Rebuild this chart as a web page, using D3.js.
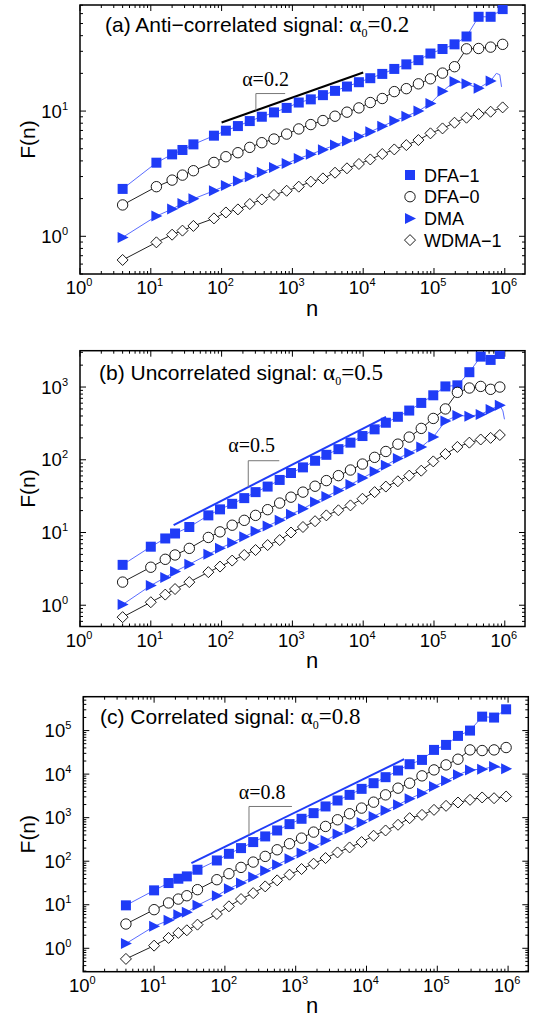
<!DOCTYPE html>
<meta charset="utf-8">
<style>
  body { margin: 0; background: #fff; }
  svg { position: absolute; left: 0; top: 0; }
  text { font-family: 'Liberation Sans', Arial, sans-serif; fill: #000; }
  .serif { font-family: 'Liberation Serif', 'Times New Roman', serif; }
  .frame { fill: none; stroke: #000; stroke-width: 1.5px; }
  .tick { stroke: #000; stroke-width: 1px; }
</style>
<script src="https://d3js.org/d3.v7.min.js"></script>
<svg width="537" height="1018"></svg>
<script>
  // ---- panel (a): anti-correlated, alpha0 = 0.2
  var nA = [4, 12, 20, 28, 40, 78, 115, 170, 250, 370, 550, 830, 1230, 1820, 2700, 4000, 5900, 8700,
    12600, 18600, 27500, 40700, 60300, 89100, 132000, 195000, 288000, 427000, 631000, 933000];
  var dfa1A = [2.39, 3.87, 4.51, 4.89, 5.42, 6.36, 6.97, 7.59, 8.32, 9.01, 9.76, 10.6, 11.7, 12.4, 13.4, 14.5, 15.7, 17.0,
    18.3, 19.8, 21.7, 23.6, 25.5, 28.8, 31.3, 34.1, 39.4, 56.6, 56.6, 65.2];
  var dfa0A = [1.78, 2.49, 2.81, 3.08, 3.34, 3.89, 4.32, 4.65, 5.13, 5.59, 5.98, 6.55, 7.2, 7.8, 8.4, 9.1, 9.8, 10.6,
    11.7, 12.6, 14.3, 15.1, 16.5, 18.1, 20.1, 22.6, 31.4, 31.6, 32.4, 34.1];
  var dmaA = [0.98, 1.45, 1.65, 1.83, 1.99, 2.31, 2.54, 2.76, 2.99, 3.24, 3.55, 3.82, 4.19, 4.52, 4.92, 5.35, 5.78, 6.27,
    6.84, 7.55, 8.35, 9.1, 10.0, 11.5, 14.4, 17.2, 16.5, 15.2, 17.4];
  var wdmaA = [0.647, 0.895, 1.03, 1.11, 1.21, 1.39, 1.55, 1.64, 1.81, 1.97, 2.14, 2.31, 2.49, 2.73, 2.90, 3.22, 3.49, 3.78,
    4.11, 4.54, 4.94, 5.35, 5.87, 6.64, 7.27, 8.07, 8.85, 9.46, 9.88, 10.7];
  var dmaTailA = [[631000, 17.4], [760000, 20.0], [850000, 19.5], [900000, 15.6]];

  // ---- panel (b): uncorrelated, alpha0 = 0.5
  var nB = [4, 10, 16, 22, 35, 65, 95, 141, 209, 302, 447, 661, 955, 1410, 2090, 3020, 4470, 6610, 9770,
    14500, 20900, 30900, 44700, 66100, 97700, 145000, 214000, 316000, 457000, 631000, 851000];
  var dfa1B = [3.59, 6.38, 8.28, 9.69, 11.9, 17.2, 20.8, 24.8, 29.7, 35.9, 42.8, 52.8, 65.8, 78.6, 96.9, 117, 140, 172, 212,
    262, 323, 390, 475, 605, 770, 1020, 1055, 1600, 2620, 2360, 2850];
  var dfa0B = [2.08, 3.33, 4.28, 4.91, 6.05, 8.55, 10.2, 12.6, 14.7, 17.2, 20.6, 25.4, 30.6, 35.9, 43.3, 51.7, 60.5, 72.3, 87.3,
    108, 130, 164, 205, 270, 370, 500, 845, 970, 1020, 930, 1000];
  var dmaB = [1.02, 1.87, 2.41, 2.91, 3.66, 5.01, 6.05, 7.23, 8.73, 10.4, 12.3, 14.7, 17.8, 21.2, 26.2, 31.3, 37.8, 45.6, 56,
    69, 84, 104, 124, 150, 205, 340, 406, 398, 420, 491, 562];
  var wdmaB = [0.686, 1.10, 1.40, 1.67, 2.08, 2.85, 3.40, 4.11, 4.91, 5.74, 6.72, 7.86, 10.0, 11.9, 14.3, 17.2, 20.2, 23.6, 29.1,
    35.9, 42.8, 50.6, 60.5, 70.8, 95, 120, 150, 172, 190, 200, 219];
  var dmaTailB = [[851000, 562], [940000, 470], [990000, 360]];

  // ---- panel (c): correlated, alpha0 = 0.8
  var nC = [4, 10, 16, 22, 29, 41, 77, 114, 169, 251, 371, 547, 818, 1210, 1790, 2640, 3900, 5770, 8530,
    12600, 18600, 27900, 40700, 60800, 89900, 133000, 196000, 290000, 430000, 634000, 938000];
  var dfa1C = [9.69, 21.4, 31.5, 39.6, 44.8, 63.7, 104, 148, 200, 275, 371, 508, 711, 943, 1270, 1810, 2480, 3340, 4590,
    6190, 8510, 12100, 16900, 21200, 36000, 46900, 75500, 100000, 209000, 199000, 308000];
  var dfa0C = [3.61, 7.71, 11.0, 13.5, 16.1, 22.2, 37.6, 51.6, 72.1, 95.5, 129, 183, 252, 339, 466, 629, 894, 1230, 1660,
    2270, 3340, 4760, 6190, 9120, 12500, 16300, 22000, 36000, 34800, 36000, 40800];
  var dmaC = [1.28, 3.2, 4.39, 5.92, 6.69, 9.69, 16.1, 23.4, 31.5, 43.3, 60.4, 83, 114, 154, 211, 300, 419, 556, 776,
    1070, 1460, 1970, 2710, 3650, 5200, 7010, 9620, 12500, 13000, 14900, 13200];
  var wdmaC = [0.57, 1.15, 1.73, 2.25, 2.59, 3.49, 6.13, 9.2, 13.5, 18.5, 26.4, 36.3, 49, 66.1, 87.5, 118, 159, 207, 275,
    384, 508, 686, 975, 1160, 1510, 1870, 2230, 2570, 2910, 2800, 3060];

  // reference slope lines [n0, F0, n1, F1], bracket [n, Ftop, n_end], label [n, F]
  var slopeA = [100, 8.1, 10000, 20.3], bracketA = [305, 13.8, 790], labelA = [195, 15.8];
  var slopeB = [21, 12.6, 21000, 390], bracketB = [238, 97, 653], labelB = [124, 126];
  var slopeC = [33.6, 90.6, 34000, 22000], bracketC = [219, 1807, 885], labelC = [157, 2660];

  var legendNames = ["DFA\u22121", "DFA\u22120", "DMA", "WDMA\u22121"];

  var blue = "#1f3cf7", blueLine = "#5a6cff";

  var panels = [
    { left: 80, right: 525, top: 5, bottom: 274, xmax: 1.93e6, ymin: 0.5, ymax: 70.3, yexp: [0, 1],
      n: nA, s: [dfa1A, dfa0A, dmaA, wdmaA], tail: dmaTailA, slope: slopeA, bracket: bracketA, label: labelA,
      slopeColor: "#000", head: "(a) Anti\u2212correlated signal: ", a0: "0.2", alpha: "0.2", legend: true,
      titleX: 105, titleY: 32, nY: 316 },
    { left: 80, right: 525, top: 350.7, bottom: 626.5, xmax: 1.93e6, ymin: 0.51, ymax: 3160, yexp: [0, 1, 2, 3],
      n: nB, s: [dfa1B, dfa0B, dmaB, wdmaB], tail: dmaTailB, slope: slopeB, bracket: bracketB, label: labelB,
      slopeColor: blue, head: "(b) Uncorrelated signal: ", a0: "0.5", alpha: "0.5", legend: false,
      titleX: 99, titleY: 380, nY: 668 },
    { left: 83.3, right: 528.3, top: 696.7, bottom: 971.7, xmax: 1.93e6, ymin: 0.29, ymax: 6.0e5, yexp: [0, 1, 2, 3, 4, 5],
      n: nC, s: [dfa1C, dfa0C, dmaC, wdmaC], tail: null, slope: slopeC, bracket: bracketC, label: labelC,
      slopeColor: blue, head: "(c) Correlated signal: ", a0: "0.8", alpha: "0.8", legend: false,
      titleX: 100, titleY: 724, nY: 1013 }
  ];

  var svg = d3.select("svg");

  var shapes = [
    function(g) { g.append("rect").attr("x", -5).attr("y", -5).attr("width", 10).attr("height", 10).attr("fill", blue); },
    function(g) { g.append("circle").attr("r", 5.2).attr("fill", "#fff").attr("stroke", "#000").attr("stroke-width", 0.9); },
    function(g) { g.append("path").attr("d", "M-5,-5.5L6,0L-5,5.5Z").attr("fill", blue); },
    function(g) { g.append("path").attr("d", "M0,-5.5L5.5,0L0,5.5L-5.5,0Z").attr("fill", "#fff").attr("stroke", "#000").attr("stroke-width", 0.9); }
  ];
  var lineColors = [blueLine, "#222", blueLine, "#222"];

  function tens(sel, e) {
    sel.append("tspan").text("10");
    sel.append("tspan").attr("dy", -8).attr("font-size", 11).text(e);
  }

  panels.forEach(function(p) {
    var x = d3.scaleLog().domain([1, p.xmax]).range([p.left, p.right]);
    var y = d3.scaleLog().domain([p.ymin, p.ymax]).range([p.bottom, p.top]);
    var g = svg.append("g");

    // ticks on all four sides, pointing inward
    var xt = [], yt = [];
    for (var e = 0; e <= 6; e++) for (var m = 1; m < 10; m++) {
      var v = m * Math.pow(10, e);
      if (v >= 1 && v <= p.xmax) xt.push([v, m === 1]);
    }
    for (var e2 = -1; e2 <= 6; e2++) for (var m2 = 1; m2 < 10; m2++) {
      var w = m2 * Math.pow(10, e2);
      if (w >= p.ymin && w <= p.ymax) yt.push([w, m2 === 1]);
    }
    xt.forEach(function(t) {
      var L = t[1] ? 6 : 3, xx = x(t[0]);
      g.append("line").attr("class", "tick").attr("x1", xx).attr("x2", xx).attr("y1", p.bottom).attr("y2", p.bottom - L);
      g.append("line").attr("class", "tick").attr("x1", xx).attr("x2", xx).attr("y1", p.top).attr("y2", p.top + L);
    });
    yt.forEach(function(t) {
      var L = t[1] ? 6 : 3, yy = y(t[0]);
      g.append("line").attr("class", "tick").attr("y1", yy).attr("y2", yy).attr("x1", p.left).attr("x2", p.left + L);
      g.append("line").attr("class", "tick").attr("y1", yy).attr("y2", yy).attr("x1", p.right).attr("x2", p.right - L);
    });

    g.append("rect").attr("class", "frame")
      .attr("x", p.left).attr("y", p.top).attr("width", p.right - p.left).attr("height", p.bottom - p.top);

    // tick labels
    d3.range(0, 7).forEach(function(e) {
      g.append("text").attr("x", x(Math.pow(10, e)) - 1).attr("y", p.bottom + 20)
        .attr("text-anchor", "middle").attr("font-size", 18.5).call(tens, e);
    });
    p.yexp.forEach(function(e) {
      g.append("text").attr("x", p.left - 12).attr("y", y(Math.pow(10, e)) + 6.5)
        .attr("text-anchor", "end").attr("font-size", 18.5).call(tens, e);
    });

    // axis titles
    g.append("text").attr("x", 312).attr("y", p.nY).attr("text-anchor", "middle").attr("font-size", 22).text("n");
    g.append("text").attr("transform", "translate(35," + ((p.top + p.bottom) / 2) + ") rotate(-90)")
      .attr("text-anchor", "middle").attr("font-size", 21).text("F(n)");

    // panel title
    var tt = g.append("text").attr("x", p.titleX).attr("y", p.titleY).attr("font-size", 21);
    tt.append("tspan").text(p.head);
    tt.append("tspan").attr("class", "serif").attr("font-size", 23).text("\u03b1");
    tt.append("tspan").attr("class", "serif").attr("font-size", 12).attr("dy", 5).text("0");
    tt.append("tspan").attr("class", "serif").attr("font-size", 23).attr("dy", -5).text("=" + p.a0);

    // reference slope and bracket
    var sl = p.slope;
    g.append("line").attr("x1", x(sl[0])).attr("y1", y(sl[1])).attr("x2", x(sl[2])).attr("y2", y(sl[3]))
      .attr("stroke", p.slopeColor).attr("stroke-width", 2);
    var k = Math.log(sl[3] / sl[1]) / Math.log(sl[2] / sl[0]);
    var br = p.bracket, onLine = sl[1] * Math.pow(br[0] / sl[0], k);
    g.append("path")
      .attr("d", "M" + x(br[0]) + "," + y(onLine) + "V" + y(br[1]) + "H" + x(br[2]))
      .attr("fill", "none").attr("stroke", "#777").attr("stroke-width", 1);
    g.append("text").attr("class", "serif").attr("x", x(p.label[0])).attr("y", y(p.label[1]))
      .attr("font-size", 20).text("\u03b1=" + p.alpha);

    // series lines
    var line = d3.line().x(function(d) { return x(d[0]); }).y(function(d) { return y(d[1]); });
    var clip = "clip" + Math.round(p.top);
    g.append("clipPath").attr("id", clip).append("rect")
      .attr("x", p.left).attr("y", p.top).attr("width", p.right - p.left).attr("height", p.bottom - p.top);
    var plot = g.append("g").attr("clip-path", "url(#" + clip + ")");

    p.s.forEach(function(vals, i) {
      var pts = vals.map(function(v, j) { return [p.n[j], v]; });
      if (i === 2 && p.tail) pts = pts.concat(p.tail.slice(1));
      plot.append("path").attr("d", line(pts)).attr("fill", "none")
        .attr("stroke", lineColors[i]).attr("stroke-width", 1);
    });
    p.s.forEach(function(vals, i) {
      vals.forEach(function(v, j) {
        var m = plot.append("g").attr("transform", "translate(" + x(p.n[j]) + "," + y(v) + ")");
        shapes[i](m);
      });
    });

    // legend
    if (p.legend) {
      legendNames.forEach(function(name, i) {
        var ly = 175 + i * 21.7;
        var m = g.append("g").attr("transform", "translate(410," + ly + ")");
        shapes[i](m);
        g.append("text").attr("x", 424).attr("y", ly + 6.5).attr("font-size", 18).text(name);
      });
    }
  });
</script>
